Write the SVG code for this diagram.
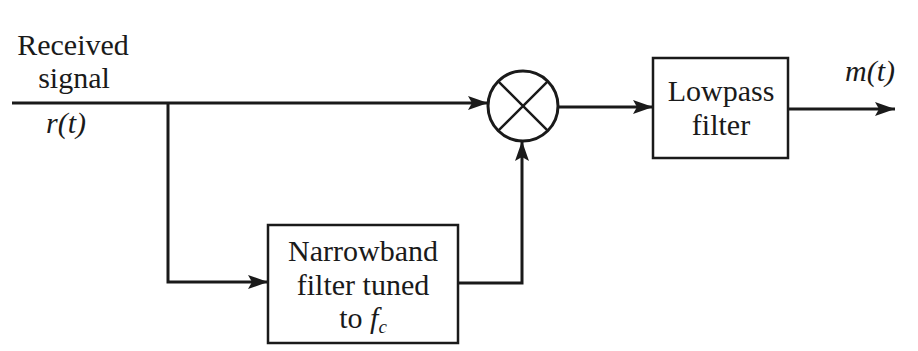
<svg xmlns="http://www.w3.org/2000/svg" width="918" height="351" viewBox="0 0 918 351">
<defs>
<marker id="ahb" markerWidth="20" markerHeight="14" refX="20" refY="7" orient="auto" markerUnits="userSpaceOnUse" viewBox="0 0 20 14">
<path d="M0,0 L20,7 L0,14 L4,7 Z" fill="#1a1a1a"/>
</marker>
</defs>
<rect width="918" height="351" fill="#fff"/>
<g id="connectors" fill="none" stroke="#1a1a1a" stroke-width="3">
<path d="M12,103 H488" marker-end="url(#ahb)"/>
<path d="M168,103 V282 H268" marker-end="url(#ahb)"/>
<path d="M458,283 H522 V141" marker-end="url(#ahb)"/>
<path d="M558,107 H653" marker-end="url(#ahb)"/>
<path d="M788,109 H895" marker-end="url(#ahb)"/>
</g>
<g id="input-label">
<text x="73" y="55" text-anchor="middle" style="font-family:'Liberation Serif',serif;font-size:30px;fill:#1a1a1a">Received</text>
<text x="74" y="88" text-anchor="middle" style="font-family:'Liberation Serif',serif;font-size:30px;fill:#1a1a1a">signal</text>
<text x="66" y="133" text-anchor="middle" style="font-family:'Liberation Serif',serif;font-size:30px;font-style:italic;fill:#1a1a1a">r(t)</text>
</g>
<g id="mixer">
<circle cx="523" cy="106" r="35" fill="#fff" stroke="#1a1a1a" stroke-width="3"/>
<path d="M498.3,81.3 L547.7,130.7 M547.7,81.3 L498.3,130.7" fill="none" stroke="#1a1a1a" stroke-width="2.5"/>
</g>
<g id="lowpass">
<rect x="653" y="58" width="135" height="100" fill="#fff" stroke="#1a1a1a" stroke-width="2.5"/>
<text x="721" y="101" text-anchor="middle" style="font-family:'Liberation Serif',serif;font-size:30px;fill:#1a1a1a">Lowpass</text>
<text x="721" y="135" text-anchor="middle" style="font-family:'Liberation Serif',serif;font-size:30px;fill:#1a1a1a">filter</text>
</g>
<g id="output-label">
<text x="870" y="81" text-anchor="middle" style="font-family:'Liberation Serif',serif;font-size:30px;font-style:italic;fill:#1a1a1a">m(t)</text>
</g>
<g id="narrowband">
<rect x="268" y="225" width="190" height="118" fill="#fff" stroke="#1a1a1a" stroke-width="2.5"/>
<text x="363" y="261" text-anchor="middle" style="font-family:'Liberation Serif',serif;font-size:30px;fill:#1a1a1a">Narrowband</text>
<text x="363" y="295" text-anchor="middle" style="font-family:'Liberation Serif',serif;font-size:30px;fill:#1a1a1a">filter tuned</text>
<text x="363" y="328" text-anchor="middle" style="font-family:'Liberation Serif',serif;font-size:30px;fill:#1a1a1a">to <tspan style="font-style:italic">f</tspan><tspan dy="5" style="font-style:italic;font-size:19px">c</tspan></text>
</g>
</svg>
